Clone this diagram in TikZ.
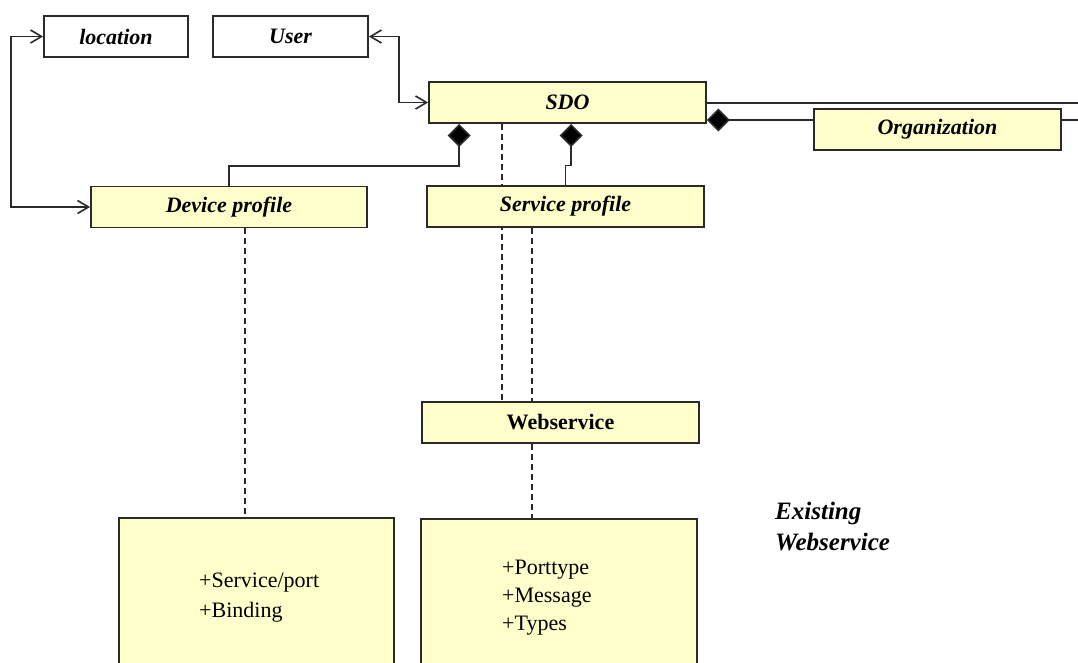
\documentclass[tikz,border=0pt]{standalone}
\usepackage{fontspec}
\setmainfont{Liberation Serif}
\usetikzlibrary{arrows.meta,backgrounds,calc}
\definecolor{boxyellow}{HTML}{FFFFCC}
\definecolor{edge}{HTML}{2A2A2A}
\begin{document}
\begin{tikzpicture}[x=1pt,y=-1pt,
  box/.style={draw=edge, line width=1.8pt, fill=boxyellow, minimum height=41pt, inner sep=0pt, font=\fontsize{22}{26}\selectfont\bfseries\itshape},
  whitebox/.style={box, fill=white},
  plainbox/.style={box, font=\fontsize{22}{26}\selectfont\bfseries},
  bigbox/.style={draw=edge, line width=1.8pt, fill=boxyellow, minimum height=182pt, inner sep=0pt},
  attr/.style={anchor=base west, inner sep=0pt, font=\fontsize{22}{26}\selectfont},
  note/.style={anchor=base west, inner sep=0pt, font=\fontsize{25}{30}\selectfont\bfseries\itshape},
  conn/.style={draw=edge, line width=1.6pt},
  openarrow/.style={{Straight Barb[length=11pt,width=13pt]}-{Straight Barb[length=11pt,width=13pt]}},
  compo/.style={-{Diamond[length=23pt,width=23pt,fill=black]}},
  dashline/.style={draw=edge, line width=1.4pt, dash pattern=on 6pt off 4pt}
]
\useasboundingbox (0,0) rectangle (1078,662);
\clip (0,0) rectangle (1078,662);

% nodes
\node[whitebox, minimum width=144pt] (loc) at (116,36.5) {location};
\node[whitebox, minimum width=155pt] (user) at (290.5,36.5) {User};
\node[box, minimum width=277pt] (sdo) at (567.5,102.5) {SDO};
\node[box, minimum width=247pt] (org) at (937.5,129.5) {Organization};
\node[box, minimum width=276pt] (dev) at (229,207) {Device profile};
\node[box, minimum width=277pt] (srv) at (565.5,206.5) {Service profile};
\node[plainbox, minimum width=277pt] (ws) at (560.5,422.5) {Webservice};
\node[bigbox, minimum width=275pt] (ex1) at (256.5,609) {};
\node[bigbox, minimum width=276pt] (ex2) at (559,610) {};

\node[attr] (a1) at (199,587) {+Service/port};
\node[attr] (a2) at (199,617) {+Binding};
\node[attr] (b1) at (502,574) {+Porttype};
\node[attr] (b2) at (502,602) {+Message};
\node[attr] (b3) at (502,630) {+Types};

\node[note] (n1) at (775,519) {Existing};
\node[note] (n2) at (775,550) {Webservice};

\coordinate (r1) at (1090,103);
\coordinate (r2) at (1090,120);

% connectors
\draw[conn, openarrow] (loc.west) -- ++(-32,0) |- (dev.west);
\draw[conn, openarrow] (user.east) -- ++(30,0) |- (sdo.west);
\draw[conn] (sdo.east |- r1) -- (r1);
\draw[conn, compo] (org.west |- r2) -- (sdo.east |- r2);
\draw[conn] (org.east |- r2) -- (r2);
\draw[conn, compo] (dev.north) -- ++(0,-19.5) -| ($(sdo.south west)+(31,0)$);
\draw[conn, compo] (srv.north) -- ++(0,-19.5) -| ($(sdo.south west)+(143,0)$);

\begin{pgfonlayer}{background}
\draw[dashline] ($(sdo.south west)+(74,0)$) -- ($(ws.north west)+(81,0)$);
\end{pgfonlayer}
\draw[dashline] ($(srv.south west)+(106,0)$) -- ($(ws.north west)+(111,0)$);
\draw[dashline] ($(ws.south west)+(111,0)$) -- ($(ex2.north west)+(112,0)$);
\draw[dashline] ($(dev.south west)+(155,0)$) -- ($(ex1.north west)+(127,0)$);
\end{tikzpicture}
\end{document}
